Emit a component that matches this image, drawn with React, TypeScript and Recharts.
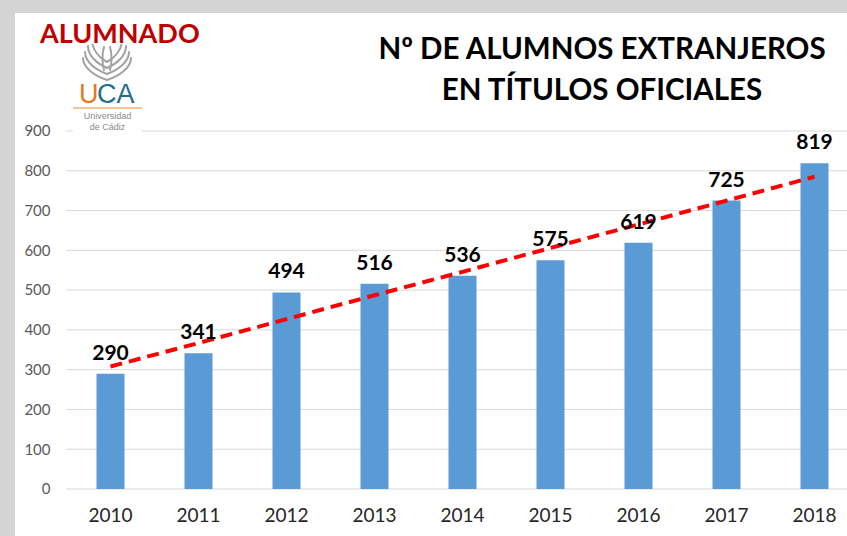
import { ComposedChart, Bar, Line, XAxis, YAxis, CartesianGrid, LabelList } from "recharts";

const years = ["2010", "2011", "2012", "2013", "2014", "2015", "2016", "2017", "2018"];
const students = [290, 341, 494, 516, 536, 575, 619, 725, 819];
// dashed trend line
const trend = [308, 367, 427, 487, 546, 606, 665, 725, 785];
const yTicks = [0, 100, 200, 300, 400, 500, 600, 700, 800, 900];

const data = years.map((year, i) => ({ year, students: students[i], trend: trend[i] }));

const FONT = "Lato, 'Open Sans', sans-serif";

function Logo() {
  // rough sketch of the UCA ears emblem: stacked chevrons rising upward
  const ears: string[] = [];
  for (const [bottom, w] of [[80, 24], [74, 22], [68, 19], [62, 15]]) {
    ears.push(`M100 ${bottom} C${100 - w * 0.5} ${bottom - 4} ${100 - w} ${bottom - 12} ${100 - w} ${bottom - 22}`);
    ears.push(`M100 ${bottom} C${100 + w * 0.5} ${bottom - 4} ${100 + w} ${bottom - 12} ${100 + w} ${bottom - 22}`);
  }
  ears.push("M97 70 C95 62 95 54 97 47");
  ears.push("M103 70 C105 62 105 54 103 47");
  return (
    <div style={{ position: "absolute", left: 73, top: 44, width: 69, height: 92, background: "#fff" }}>
      <svg width={69} height={92} style={{ position: "absolute", left: 0, top: 0 }}>
        <g transform="translate(-66,-44)" fill="none" stroke="#a3a3a3" strokeWidth={2} strokeLinecap="round">
          {ears.map((d, i) => (
            <path key={i} d={d} />
          ))}
        </g>
        <text x={6} y={59} fontFamily="'Liberation Sans', Arial, sans-serif" fontSize={27} fill="#e07b24">U</text>
        <text x={24} y={59} fontFamily="'Liberation Sans', Arial, sans-serif" fontSize={27} fill="#1f6e8c">CA</text>
        <line x1={0} y1={64} x2={69} y2={64} stroke="#f0b27a" strokeWidth={1.5} />
        <text x={34.5} y={75} textAnchor="middle" fontFamily="'Liberation Sans', Arial, sans-serif" fontSize={9} fill="#8a8a8a">Universidad</text>
        <text x={34.5} y={86} textAnchor="middle" fontFamily="'Liberation Sans', Arial, sans-serif" fontSize={9} fill="#8a8a8a">de Cádiz</text>
      </svg>
    </div>
  );
}

export default function App() {
  return (
    <div style={{ position: "absolute", left: 0, top: 0, width: 847, height: 536, overflow: "hidden", background: "#d4d4d4", fontFamily: FONT }}>
      <div style={{ position: "absolute", left: 15, top: 13, width: 900, height: 600, background: "#fff" }} />
      <div style={{ position: "absolute", left: 0, top: 0 }}>
        <ComposedChart width={900} height={536} data={data} margin={{ top: 131, right: 41.5, bottom: 0, left: 0 }}>
          <CartesianGrid vertical={false} stroke="#d9d9d9" strokeWidth={1} />
          <XAxis
            dataKey="year"
            axisLine={false}
            tickLine={false}
            height={47}
            tickMargin={14}
            tick={{ fontSize: 19, fill: "#262626", fontFamily: FONT }}
          />
          <YAxis
            domain={[0, 900]}
            ticks={yTicks}
            width={66.5}
            axisLine={false}
            tickLine={false}
            tickSize={0}
            tickMargin={16}
            tick={{ fontSize: 15, fill: "#595959", fontFamily: FONT }}
          />
          <Bar dataKey="students" fill="#5b9bd5" barSize={28} isAnimationActive={false}>
            <LabelList dataKey="students" position="top" offset={14} fill="#000" fontSize={21} fontWeight="bold" fontFamily={FONT} />
          </Bar>
          <Line
            dataKey="trend"
            stroke="#ff0000"
            strokeWidth={4}
            strokeDasharray="12 7"
            dot={false}
            activeDot={false}
            isAnimationActive={false}
          />
        </ComposedChart>
      </div>
      <div style={{ position: "absolute", left: 40, top: 16, color: "#c00000", fontWeight: 700, fontSize: 27, lineHeight: "34px" }}>ALUMNADO</div>
      <div style={{ position: "absolute", left: 352, top: 27, width: 500, textAlign: "center", color: "#000", fontWeight: 700, fontSize: 29.5, lineHeight: "41px" }}>
        Nº DE ALUMNOS EXTRANJEROS
        <br />
        EN TÍTULOS OFICIALES
      </div>
      <Logo />
    </div>
  );
}
